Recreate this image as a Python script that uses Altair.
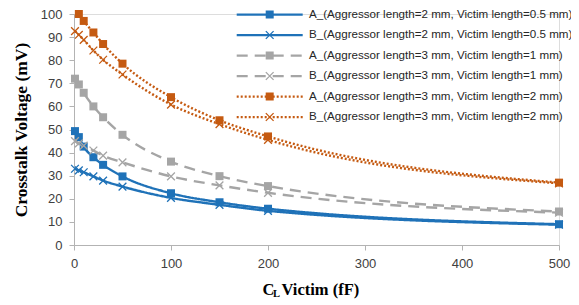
import altair as alt
import pandas as pd

# ---- data ----
cl = [1, 5, 10, 20, 30, 50, 100, 150, 200, 500]
cl_orange_a = [5, 10, 20, 30, 50, 100, 150, 200, 500]

blue_a = [49.3, 46.7, 42.6, 38.0, 34.7, 29.7, 22.4, 18.5, 15.7, 9.0]
blue_b = [33.0, 32.3, 31.5, 29.7, 27.9, 25.3, 20.4, 17.4, 14.8, 8.8]
grey_a = [72.0, 69.5, 65.9, 60.0, 55.3, 47.7, 36.1, 29.8, 25.5, 14.5]
grey_b = [45.0, 44.0, 43.0, 40.9, 38.7, 35.8, 29.7, 25.8, 22.6, 14.0]
orange_a = [100.0, 97.0, 92.0, 87.0, 78.5, 64.0, 54.0, 47.0, 27.0]
orange_b = [92.6, 91.0, 88.8, 84.2, 80.2, 73.8, 60.8, 52.3, 45.5, 26.7]

series_names = [
    "A_(Aggressor length=2 mm, Victim length=0.5 mm)",
    "B_(Aggressor length=2 mm, Victim length=0.5 mm)",
    "A_(Aggressor length=3 mm, Victim length=1 mm)",
    "B_(Aggressor length=3 mm, Victim length=1 mm)",
    "A_(Aggressor length=3 mm, Victim length=2  mm)",
    "B_(Aggressor length=3 mm, Victim length=2 mm)",
]
series_x = [cl, cl, cl, cl, cl_orange_a, cl]
series_y = [blue_a, blue_b, grey_a, grey_b, orange_a, orange_b]
series_marker = ["sq", "x", "sq", "x", "sq", "x"]

colors = ["#1F72B8", "#1F72B8", "#A5A5A5", "#A5A5A5", "#C55A11", "#C55A11"]
dashes = [[1, 0], [1, 0], [11, 7], [11, 7], [2, 2], [2, 2]]
x_shape = "M-1,-1L1,1M-1,1L1,-1"

rows = []
for name, xs, ys, mk in zip(series_names, series_x, series_y, series_marker):
    for xv, yv in zip(xs, ys):
        rows.append({"series": name, "cl": xv, "v": yv, "marker": mk})
df = pd.DataFrame(rows)

W, H = 485, 231

color_scale = alt.Scale(domain=series_names, range=colors)
dash_scale = alt.Scale(domain=series_names, range=dashes)

x_enc = alt.X("cl:Q", scale=alt.Scale(domain=[0, 500], nice=False),
              axis=alt.Axis(values=[0, 100, 200, 300, 400, 500], title=None,
                            grid=False, tickSize=5, labelPadding=7,
                            labelFont="Liberation Sans", labelFontSize=13,
                            labelColor="#404040", domainColor="#B3B3B3",
                            tickColor="#B3B3B3", labelFlush=False,
                            labelOverlap=False))
y_enc = alt.Y("v:Q", scale=alt.Scale(domain=[0, 100], nice=False),
              axis=alt.Axis(values=[0, 10, 20, 30, 40, 50, 60, 70, 80, 90, 100],
                            tickCount=11,
                            title="Crosstalk Voltage (mV)", grid=False,
                            tickSize=5, labelPadding=7, labelOverlap=False,
                            labelFont="Liberation Sans", labelFontSize=13,
                            labelColor="#404040", domainColor="#B3B3B3",
                            tickColor="#B3B3B3", titleFont="Liberation Serif",
                            titleFontSize=17.5, titleFontWeight="bold",
                            titleColor="#000000", titlePadding=10))

base = alt.Chart(df)

lines = base.mark_line(interpolate="monotone", strokeWidth=2.4).encode(
    color=alt.Color("series:N", scale=color_scale, legend=None),
    strokeDash=alt.StrokeDash("series:N", scale=dash_scale, legend=None),
    detail="series:N",
)

squares = base.transform_filter(alt.datum.marker == "sq").mark_point(
    shape="square", filled=True, size=64, opacity=1
).encode(color=alt.Color("series:N", scale=color_scale, legend=None))

crosses = base.transform_filter(alt.datum.marker == "x").mark_point(
    shape=x_shape, filled=False, size=60, opacity=1, strokeWidth=1.3
).encode(color=alt.Color("series:N", scale=color_scale, legend=None))

# ---- legend (drawn inside the plot, top right, like the reference) ----
legend_layers = []
for i, (name, mk, dash) in enumerate(zip(series_names, series_marker, dashes)):
    ldf = pd.DataFrame({"series": [name]})
    yr = 0.5 + 20.5 * i
    col = alt.Color("series:N", scale=color_scale, legend=None)
    legend_layers.append(
        alt.Chart(ldf).mark_rule(strokeDash=dash, strokeWidth=2.25).encode(
            x=alt.value(162.7), x2=alt.value(228.7), y=alt.value(yr), color=col))
    if mk == "sq":
        pm = alt.Chart(ldf).mark_point(shape="square", filled=True, size=64, opacity=1)
    else:
        pm = alt.Chart(ldf).mark_point(shape=x_shape, filled=False, size=60,
                                        opacity=1, strokeWidth=1.3)
    legend_layers.append(pm.encode(x=alt.value(195.7), y=alt.value(yr), color=col))
    legend_layers.append(
        alt.Chart(ldf).mark_text(align="left", baseline="middle", font="Liberation Sans",
                                 fontSize=11.6, color="#262626").encode(
            x=alt.value(235), y=alt.value(yr), text="series:N"))

# ---- x-axis title with subscript ----
tpos = pd.DataFrame({"cl": [250], "v": [0]})
t_c = alt.Chart(tpos).mark_text(text="C", align="left", baseline="middle", dx=-54,
                                font="Liberation Serif", fontSize=16.5, fontWeight="bold",
                                color="#000000").encode(y=alt.value(H + 45))
t_l = alt.Chart(tpos).mark_text(text="L", align="left", baseline="middle", dx=-43.5,
                                font="Liberation Serif", fontSize=10.5, fontWeight="bold",
                                color="#000000").encode(y=alt.value(H + 49))
t_v = alt.Chart(tpos).mark_text(text="Victim (fF)", align="left", baseline="middle", dx=-35,
                                font="Liberation Serif", fontSize=16.5, fontWeight="bold",
                                color="#000000").encode(y=alt.value(H + 45))

chart = alt.layer(lines, squares, crosses, *legend_layers, t_c, t_l, t_v).encode(
    x=x_enc, y=y_enc
).properties(
    width=W, height=H,
    autosize=alt.AutoSizeParams(type="none"),
    padding={"left": 66, "top": 6, "right": 12, "bottom": 60},
).configure_view(stroke=None).configure(background="white")

chart.save("out.html", embed_options={"renderer": "svg", "actions": False})
